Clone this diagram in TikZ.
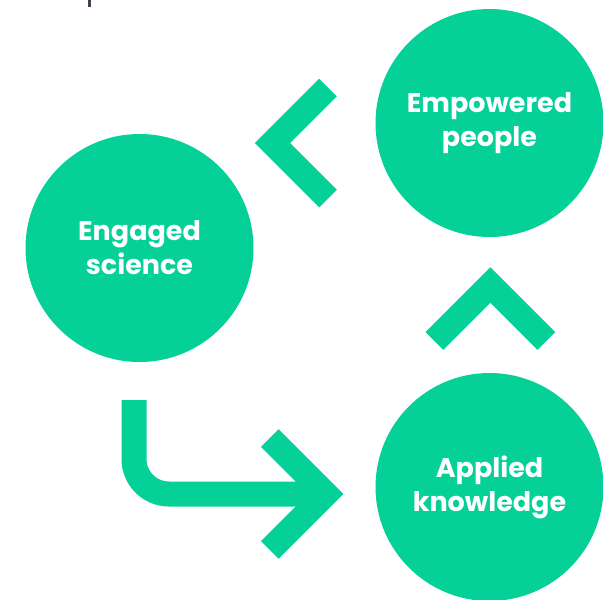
\documentclass[tikz,border=0pt]{standalone}
\usepackage{fontspec}
\setmainfont{Poppins}
\usetikzlibrary{positioning}
\definecolor{leaf}{RGB}{4,208,152}
\definecolor{slate}{RGB}{58,69,80}
\begin{document}
\begin{tikzpicture}[
        x=1pt, y=-1pt, % pixel-like units, y downwards
        line join = miter, % sharp chevrons
        line cap = butt,
        leaf, % everything green
        node distance = 364pt
      ]

      \tikzstyle{stage}=[circle,fill=leaf,minimum size=228pt,inner sep=0pt,
        text=white,font=\bfseries\fontsize{27}{34}\selectfont,align=center]
      \tikzstyle{chevron}=[draw=leaf,line width=25pt]

      \useasboundingbox (0,0) rectangle (603,600);

      % cut-off mark at the top
      \fill[slate] (87.7,0) rectangle (91,6.7);

      \node[stage] (eng) at (139.5,248) {Engaged\\science};
      \node[stage] (emp) at (489.5,123) {Empowered\\people};
      \node[stage] (app) [below of=emp] {Applied\\knowledge};

      \coordinate (back) at (272.5,143);
      \coordinate (up) at (490.4,285);
      \coordinate (start) at (134,400);
      \coordinate (tip) at (325.8,494);

      % empowered -> engaged
      \draw[chevron] ([shift={(55.5,-55.5)}]back) -- (back) -- ([shift={(55.5,55.5)}]back);
      % applied -> empowered
      \draw[chevron] ([shift={(-56,56)}]up) -- (up) -- ([shift={(56,56)}]up);
      % engaged -> applied
      \draw[chevron,rounded corners=35pt] (start) |- (tip);
      \draw[chevron] ([shift={(-56,-56)}]tip) -- (tip) -- ([shift={(-56,56)}]tip);

    \end{tikzpicture}
\end{document}
